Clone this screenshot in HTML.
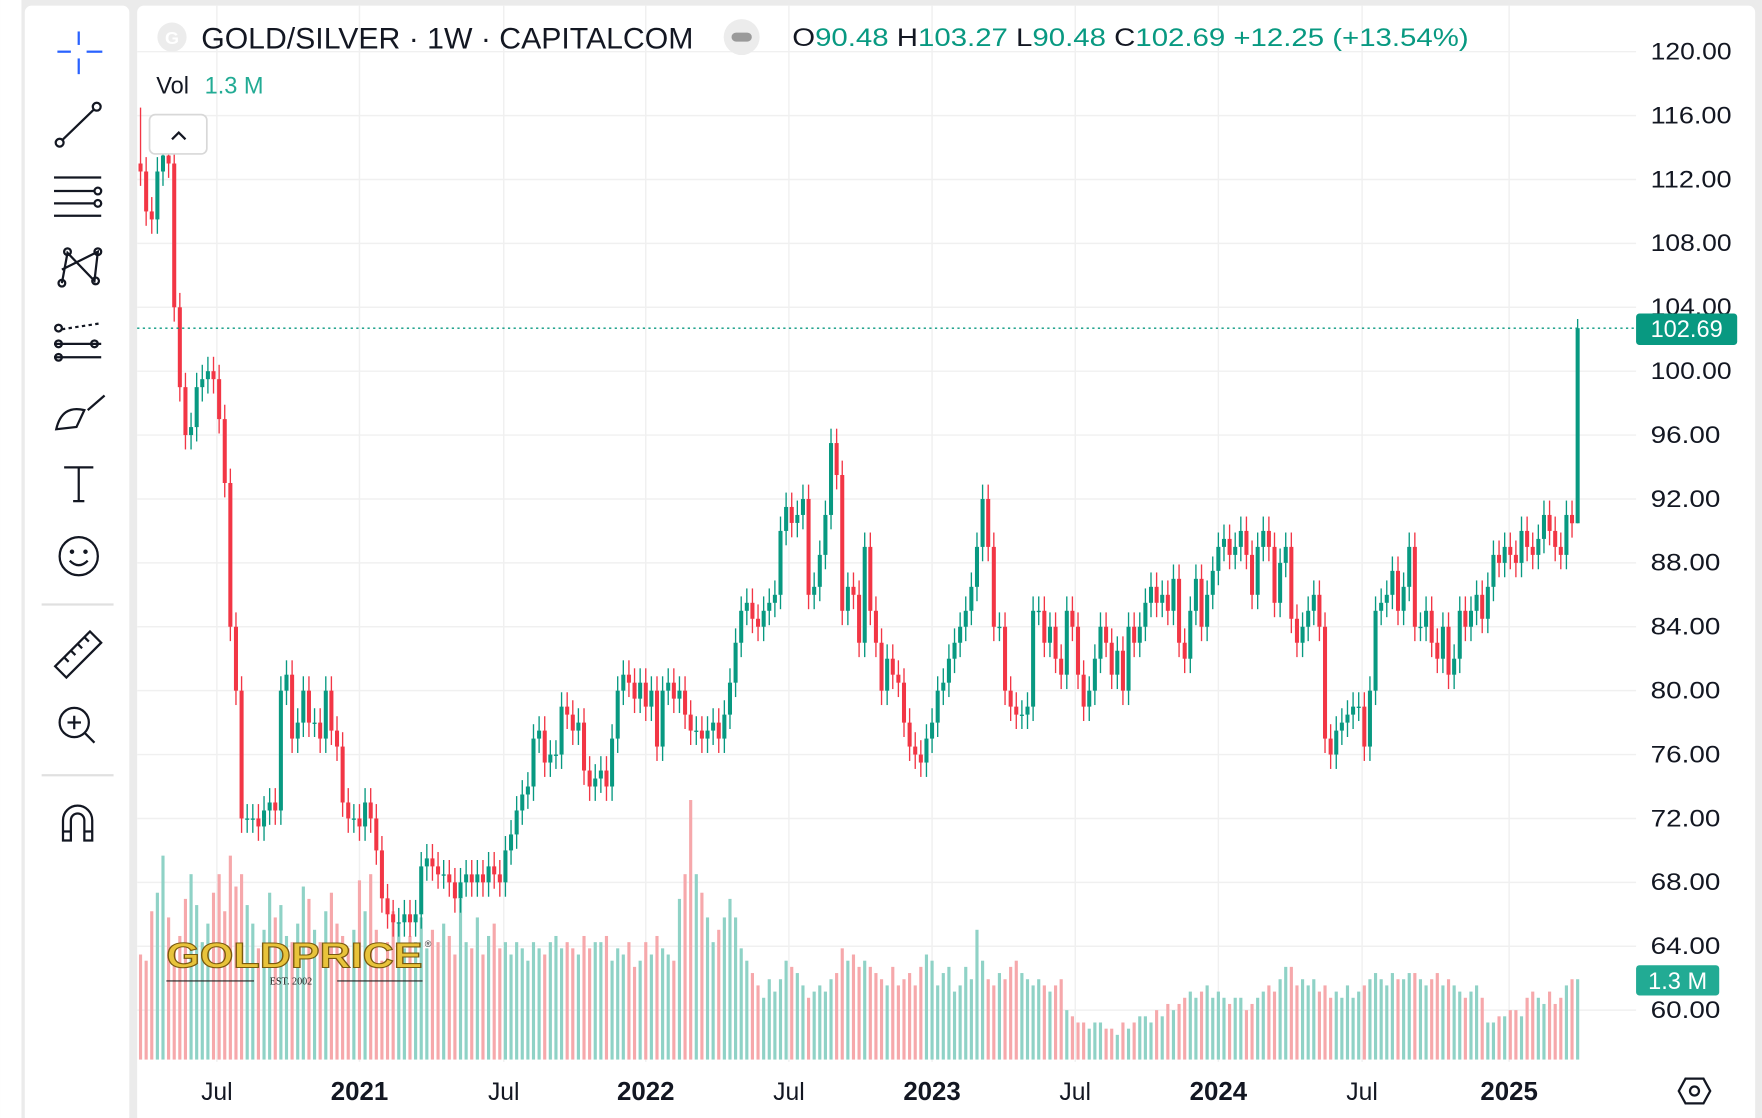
<!DOCTYPE html>
<html><head><meta charset="utf-8"><style>
html,body{margin:0;padding:0;background:#fff;}
svg{display:block;font-family:"Liberation Sans",sans-serif;}
</style></head><body>
<svg id="chart" width="1762" height="1118" viewBox="0 0 1568 995" xmlns="http://www.w3.org/2000/svg">
<rect x="0" y="0" width="1568" height="995" fill="#ebebeb"/>
<rect x="0" y="0" width="19" height="995" fill="#ffffff"/>
<rect x="22" y="5" width="93" height="995" rx="6" fill="#ffffff"/>
<rect x="122" y="5" width="1440" height="995" rx="6" fill="#ffffff"/>
<g id="grid"></g>
<g id="vols"></g>
<g id="candles"></g>
<g>
<text x="148" y="861" font-size="31" font-weight="bold" fill="#e8c33a" stroke="#7a5a10" stroke-width="1" textLength="228" lengthAdjust="spacingAndGlyphs">GOLDPRICE</text>
<text x="378" y="843" font-size="8" fill="#333">®</text>
<line x1="148" y1="873" x2="226" y2="873" stroke="#222" stroke-width="1"/>
<line x1="300" y1="873" x2="376" y2="873" stroke="#222" stroke-width="1"/>
<text x="240" y="876" font-size="9" font-family="Liberation Serif,serif" fill="#222">EST. 2002</text>
</g>
<line id="lastline" x1="122" x2="1456" y1="292" y2="292" stroke="#089981" stroke-width="1.3" stroke-dasharray="2,3"/>
<g id="yaxis"></g>
<g id="xaxis"></g>
<g>
<rect x="1456" y="279" width="90" height="28" rx="3" fill="#089981"/>
<text id="lastlbl" x="1501" y="300" font-size="21" fill="#fff" text-anchor="middle">102.69</text>
</g>
<g>
<rect x="1456" y="859" width="74" height="27" rx="3" fill="#22ab94"/>
<text x="1493" y="880" font-size="21" fill="#fff" text-anchor="middle">1.3 M</text>
</g>
<g>
<circle cx="153" cy="33" r="13" fill="#ececec"/>
<text x="153" y="39" font-size="16" fill="#fff" text-anchor="middle" font-weight="bold">G</text>
<text x="179" y="43" font-size="26" fill="#131722" textLength="438" lengthAdjust="spacingAndGlyphs">GOLD/SILVER · 1W · CAPITALCOM</text>
<circle cx="660" cy="33" r="16" fill="#ececec"/>
<rect x="651" y="29" width="18" height="8" rx="4" fill="#9a9a9a"/>
<text x="705" y="41" font-size="22" fill="#089981" textLength="602" lengthAdjust="spacingAndGlyphs"><tspan fill="#131722">O</tspan>90.48 <tspan fill="#131722">H</tspan>103.27 <tspan fill="#131722">L</tspan>90.48 <tspan fill="#131722">C</tspan>102.69 +12.25 (+13.54%)</text>
<text x="139" y="83" font-size="21" fill="#131722">Vol <tspan fill="#22ab94" dx="8">1.3 M</tspan></text>
<rect x="133" y="102" width="51" height="35" rx="5" fill="#fff" stroke="#d8d8d8" stroke-width="1.5"/>
<path d="M153 124 L159 118 L165 124" fill="none" stroke="#131722" stroke-width="2"/>
</g>
<g fill="none" stroke="#131722" stroke-width="2">
<g stroke="#2962ff"><line x1="70" y1="28" x2="70" y2="40"/><line x1="70" y1="52" x2="70" y2="66"/><line x1="51" y1="46" x2="63" y2="46"/><line x1="77" y1="46" x2="91" y2="46"/></g>
<g><line x1="55" y1="125" x2="84" y2="97"/><circle cx="53" cy="127" r="3.5"/><circle cx="86" cy="95" r="3.5"/></g>
<g><line x1="48" y1="158" x2="90" y2="158"/><line x1="48" y1="170" x2="84" y2="170"/><line x1="48" y1="181" x2="84" y2="181"/><line x1="48" y1="192" x2="90" y2="192"/><circle cx="87" cy="170" r="3"/><circle cx="87" cy="181" r="3"/></g>
<g><path d="M55 252 L60 225 L84 250 L87 224 L55 240"/><circle cx="60" cy="224" r="3"/><circle cx="87" cy="224" r="3"/><circle cx="55" cy="252" r="3"/><circle cx="85" cy="250" r="3"/></g>
<g><line x1="48" y1="318" x2="90" y2="318"/><line x1="48" y1="306" x2="90" y2="306"/><line x1="55" y1="293" x2="88" y2="288" stroke-dasharray="3,3"/><circle cx="52" cy="318" r="3"/><circle cx="52" cy="306" r="3"/><circle cx="84" cy="306" r="3"/><circle cx="52" cy="292" r="3"/></g>
<g><path d="M50 382 Q55 360 75 365 L68 380 Z"/><path d="M78 365 L93 352"/></g>
<g><line x1="57" y1="416" x2="83" y2="416"/><line x1="70" y1="416" x2="70" y2="446"/><line x1="65" y1="446" x2="75" y2="446"/></g>
<g><circle cx="70" cy="495" r="17"/><circle cx="64" cy="491" r="1" fill="#131722"/><circle cx="76" cy="491" r="1" fill="#131722"/><path d="M62 499 Q70 507 78 499"/></g>
<line x1="37" y1="538" x2="101" y2="538" stroke="#e0e0e0"/>
<g><path d="M49 593 L80 562 L90 572 L59 603 Z"/><path d="M57 585 l4 4 M63 579 l4 4 M69 573 l4 4 M75 567 l4 4"/></g>
<g><circle cx="66" cy="643" r="13"/><line x1="75" y1="652" x2="84" y2="661"/><line x1="60" y1="643" x2="72" y2="643"/><line x1="66" y1="637" x2="66" y2="649"/></g>
<line x1="37" y1="690" x2="101" y2="690" stroke="#e0e0e0"/>
<g><path d="M56 748 L56 730 A13 13 0 0 1 82 730 L82 748 L75 748 L75 730 A6 6 0 0 0 63 730 L63 748 Z"/><line x1="56" y1="740" x2="63" y2="740"/><line x1="75" y1="740" x2="82" y2="740"/></g>
</g>
<g fill="none" stroke="#131722" stroke-width="2"><path d="M1500 960 L1516 960 L1522 971 L1516 982 L1500 982 L1494 971 Z"/><circle cx="1508" cy="971" r="4"/></g>
</svg>
<script>
const closes=[112.5,110,109.5,112.5,113.5,113,104,99,96,96.5,99,99.5,100,99.5,97,93,84,80,
72,72,72,71.5,72.5,73,72.5,80,81,77,78,80,78,78,77,80,77.5,76.5,73,72,72,71.5,73,72,70,67,66,65.5,65.5,66,65.5,66,69,69.5,69,68.5,68.5,68,67,68,68.5,68,68.5,68,69,68.5,68,70,71,72.5,73.5,74,77,77.5,75.5,76,76,79,78.5,77.5,78,75,74,74.5,75,74,77,80,81,80.5,79.5,80.5,79,80,76.5,80,80.5,79.5,80,78.5,77.5,77.5,77,77.5,78,77,78.5,80.5,83,85,85.5,84.5,84,85,85.5,86,90,91.5,90.5,91,92,86,86.5,88.5,91,95.5,93.5,85,86.5,86,83,89,85,83,80,82,81,80.5,78,76.5,76,75.5,77,78,80,80.5,82,83,84,85,86.5,89,92,89,84,84,80,79,78.5,78.5,79,85,85,83,84,82,81,85,84,81,79,80,82,84,83,81,82.5,80,84,83,84,85.5,86.5,85.5,86,85,87,83,82,85,87,84,86,87.5,89,89.5,88.5,89,90,88.5,86,89,90,89,85.5,88,89,84.5,83,84,85,86,84,77,76,77.5,78,78.5,79,79,76.5,80,85,85.5,86,87.5,85,86.5,89,84,84,85,83,82,84,81,82,85,84,85,86,84.5,86.5,88.5,88,89,88.5,88,90,89,88.5,89.5,91,90,89,88.5,91,90.48,102.69];
const volumes=[1.7,1.6,2.4,2.7,3.3,2.3,1.8,2.0,2.6,3.0,2.5,1.9,2.2,2.7,3.0,2.4,3.3,2.8,
3.0,2.5,2.2,1.8,2.1,2.7,2.3,2.5,2.0,1.9,2.2,2.8,2.6,2.1,1.9,2.4,2.7,2.2,
2.0,1.8,2.1,2.9,2.4,3.0,2.1,1.6,1.9,2.4,2.2,1.8,2.0,1.9,2.3,1.8,2.1,1.9,2.2,2.0,
1.7,2.6,1.9,1.8,2.3,1.7,2.0,2.2,1.8,1.9,1.7,1.9,1.8,1.6,1.9,1.8,1.7,1.9,2.0,1.8,
1.9,1.8,1.7,2.0,1.8,1.9,1.9,2.0,1.6,1.8,1.7,1.9,1.5,1.6,1.9,1.7,2.0,1.8,1.7,1.6,
2.6,3.0,4.2,3.0,2.7,2.3,1.9,2.1,2.3,2.6,2.3,1.8,1.6,1.4,1.2,1.0,1.3,1.1,1.3,1.6,
1.5,1.4,1.2,1.0,1.1,1.2,1.1,1.3,1.4,1.8,1.6,1.7,1.5,1.6,1.5,1.4,1.3,1.2,1.5,1.2,
1.3,1.4,1.2,1.5,1.7,1.6,1.2,1.4,1.5,1.1,1.2,1.5,1.3,2.1,1.6,1.3,1.2,1.4,1.3,1.5,
1.6,1.4,1.3,1.2,1.3,1.2,1.1,1.2,1.3,0.8,0.7,0.6,0.6,0.5,0.6,0.6,0.5,0.5,0.4,0.6,
0.5,0.6,0.7,0.7,0.6,0.8,0.7,0.9,0.8,0.9,1.0,1.1,1.0,1.1,1.2,1.0,1.1,1.0,0.9,1.0,
1.0,0.8,0.9,1.0,1.1,1.2,1.1,1.3,1.5,1.5,1.2,1.3,1.2,1.3,1.1,1.2,1.0,1.1,1.0,1.2,
1.0,1.1,1.2,1.3,1.4,1.3,1.2,1.4,1.3,1.3,1.4,1.4,1.3,1.2,1.3,1.4,1.2,1.3,1.2,1.1,
1.0,1.1,1.2,1.0,0.6,0.6,0.7,0.7,0.8,0.8,0.7,1.0,1.1,1.0,0.9,1.1,0.9,1.0,1.2,1.3,1.3];
const firstOpen=113;
const firstHigh=116.5;
const lastHigh=103.27;
const priceTicks=[120,116,112,108,104,100,96,92,88,84,80,76,72,68,64,60];
const timeLabels=["Jul","2021","Jul","2022","Jul","2023","Jul","2024","Jul","2025"];
const timeLabelWeeks=[13.6,39,64.7,90,115.5,141,166.5,192,217.6,243.8];

const NS="http://www.w3.org/2000/svg";
const n=closes.length;
function yScale(p){return 46+(120-p)*14.217;}
function xScale(i){return 125+i*(1404-125)/(n-1);}
function vScale(v){return v*55;}
function mk(tag,attrs,parent){const e=document.createElementNS(NS,tag);for(const k in attrs)e.setAttribute(k,attrs[k]);parent.appendChild(e);return e;}
const grid=document.getElementById('grid'),yaxis=document.getElementById('yaxis'),xaxis=document.getElementById('xaxis');
priceTicks.forEach(p=>{
  const l=mk('line',{x1:122,x2:1456,y1:yScale(p),y2:yScale(p),stroke:'#f0f0f0','stroke-width':1.3},grid);
  
  
  const t=mk('text',{x:1469,y:yScale(p)+7,'font-size':21,fill:'#131722',textLength:(p>=100?72:62),lengthAdjust:'spacingAndGlyphs'},yaxis);
  t.textContent=p.toFixed(2);
  
  
});
timeLabels.forEach((s,k)=>{
  const x=xScale(timeLabelWeeks[k]);
  const l=mk('line',{x1:x,x2:x,y1:5,y2:945,stroke:'#f0f0f0','stroke-width':1.3},grid);
  
  
  const bold=/^\d/.test(s);
  const t=mk('text',{x:x,y:979,'font-size':bold?23:22,fill:'#131722','text-anchor':'middle','font-weight':bold?'bold':'normal'},xaxis);
  t.textContent=s;
  
  
});
const cg=document.getElementById('candles'),vg=document.getElementById('vols');
const bw=3.6;
for(let i=0;i<n;i++){
  const o=i===0?firstOpen:closes[i-1];
  const c=closes[i];
  const up=c>=o;
  const col=up?'#089981':'#f23645';
  let hi=Math.max(o,c)+0.9, lo=Math.min(o,c)-0.9;
  if(i===0) hi=firstHigh;
  if(i===n-1){hi=lastHigh;lo=Math.min(o,c);}
  const x=xScale(i);
  const w=mk('line',{x1:x,x2:x,y1:yScale(hi),y2:yScale(lo),stroke:col,'stroke-width':1.2},cg);
  
  
  const top=yScale(Math.max(o,c)),bot=yScale(Math.min(o,c));
  const b=mk('rect',{x:x-bw/2,y:top,width:bw,height:Math.max(1.2,bot-top),fill:col},cg);
  
  
  const h=vScale(volumes[i]);
  const v=mk('rect',{x:x-1.4,y:943-h,width:2.8,height:h,fill:up?'#8fd2c6':'#f6a8ab'},vg);
  
  
}
const ly=yScale(closes[n-1]);
document.getElementById('lastline').setAttribute('y1',ly);
document.getElementById('lastline').setAttribute('y2',ly);
</script>
</body></html>
